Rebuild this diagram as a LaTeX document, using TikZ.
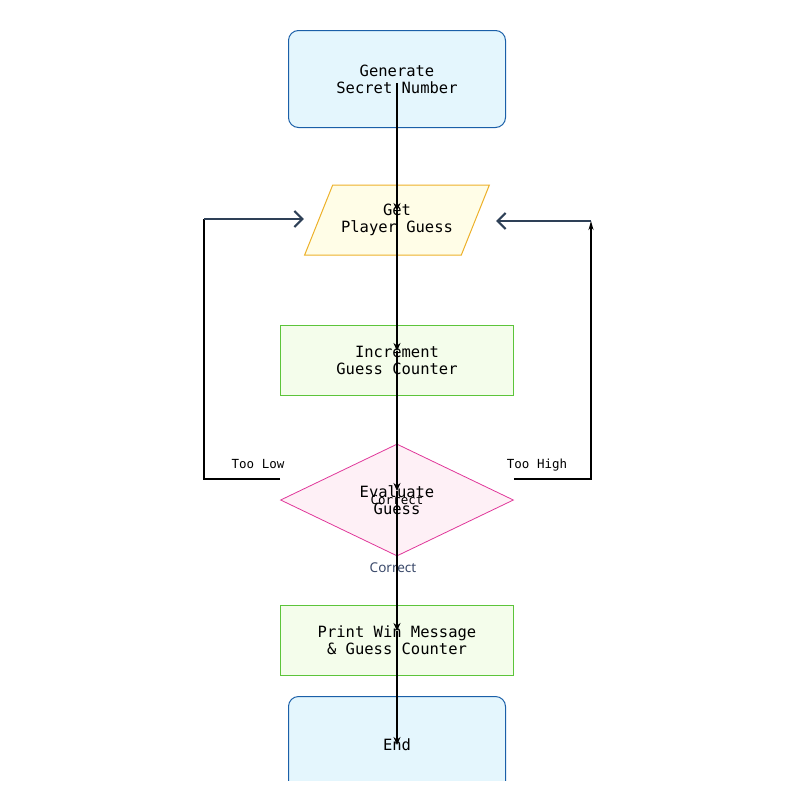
\documentclass[tikz,border=0pt]{standalone}
\usepackage{fontspec}
\setmonofont{DejaVu Sans Mono}
\newfontfamily\labelfont{Noto Sans}
\usetikzlibrary{shapes, shapes.geometric, arrows, arrows.meta, positioning}

\definecolor{termfill}{HTML}{E4F6FD}
\definecolor{termline}{HTML}{1A5FA8}
\definecolor{iofill}{HTML}{FFFDE7}
\definecolor{ioline}{HTML}{EDB12A}
\definecolor{procfill}{HTML}{F4FDEB}
\definecolor{procline}{HTML}{5CC43A}
\definecolor{decfill}{HTML}{FEF0F6}
\definecolor{decline}{HTML}{E0379A}
\definecolor{slate}{HTML}{2E4057}
\definecolor{edgetext}{HTML}{3B4A6B}

\begin{document}
\begin{tikzpicture}[x=1pt, y=-1pt]
        \tikzstyle{every node}=[align=center, font=\ttfamily\fontsize{15.5}{17}\selectfont]
        \tikzstyle{terminal}=[draw=termline, fill=termfill, rounded corners=10pt, minimum width=217pt, minimum height=97pt, line width=1pt]
        \tikzstyle{inout}=[draw=ioline, fill=iofill, trapezium, trapezium left angle=56, trapezium right angle=124, trapezium stretches=true, minimum width=185pt, minimum height=70pt, line width=1pt]
        \tikzstyle{process}=[draw=procline, fill=procfill, minimum width=233pt, minimum height=70pt, line width=0.8pt]
        \tikzstyle{decision}=[draw=decline, fill=decfill, diamond, aspect=2, minimum width=233pt, minimum height=112pt, inner sep=0pt, line width=0.8pt]
        \tikzstyle{small}=[font=\ttfamily\fontsize{12.5}{14}\selectfont]
        \tikzstyle{flow}=[black, line width=1.5pt, -{Stealth[length=8pt, width=7pt]}]
        \tikzstyle{loopline}=[black, line width=1.5pt]
        \tikzstyle{back}=[slate, line width=2.2pt, -{Straight Barb[length=8pt, width=16pt]}]

        \useasboundingbox (0,0) rectangle (794,790);

        \node at (397, 79) [terminal] (gen) {Generate\\Secret Number};
        \node at (397, 220) [inout] (guess) {Get\\Player Guess};
        \node at (397, 360) [process] (inc) {Increment\\Guess Counter};
        \node at (397, 500) [decision] (eval) {Evaluate\\Guess};
        \node at (397, 640) [process] (win) {Print Win Message\\\& Guess Counter};
        \begin{scope}
        \clip (0,0) rectangle (794,780);
        \node at (397, 745) [terminal, minimum height=98pt, anchor=north, yshift=49pt] (end) {};
        \end{scope}
        \node at (397, 745) (endtext) {End};

        \node at (397, 500) [small] (correctmid) {Correct};
        \node at (393, 568) [font=\labelfont\fontsize{13.5}{16}\selectfont, text=edgetext] (correct) {Correct};
        \node at (258, 464) [small] (low) {Too Low};
        \node at (537, 465) [small] (high) {Too High};

        \coordinate (lowturn) at (204, 479);
        \coordinate (lowtop) at (204, 219);
        \coordinate (highturn) at (591, 479);
        \coordinate (hightop) at (591, 221);

        % main line
        \draw[flow] ([yshift=-4pt]gen.center) -- ([yshift=9pt]guess.center);
        \draw[flow] ([yshift=9pt]guess.center) -- ([yshift=9pt]inc.center);
        \draw[flow] ([yshift=9pt]inc.center) -- ([yshift=9pt]eval.center);
        \draw[flow] ([yshift=9pt]eval.center) -- ([yshift=9pt]win.center);
        \draw[flow] ([yshift=9pt]win.center) -- (endtext.center);

        % loops back
        \draw[loopline] (eval.west |- lowturn) -- (lowturn) -- (lowtop);
        \draw[back] (lowtop) -- (lowtop -| guess.bottom left corner);
        \draw[loopline, -{Stealth[length=9pt, width=5pt]}] (eval.east |- highturn) -- (highturn) -- (hightop);
        \draw[back] (hightop) -- ([xshift=6pt]hightop -| guess.top right corner);
\end{tikzpicture}
\end{document}
